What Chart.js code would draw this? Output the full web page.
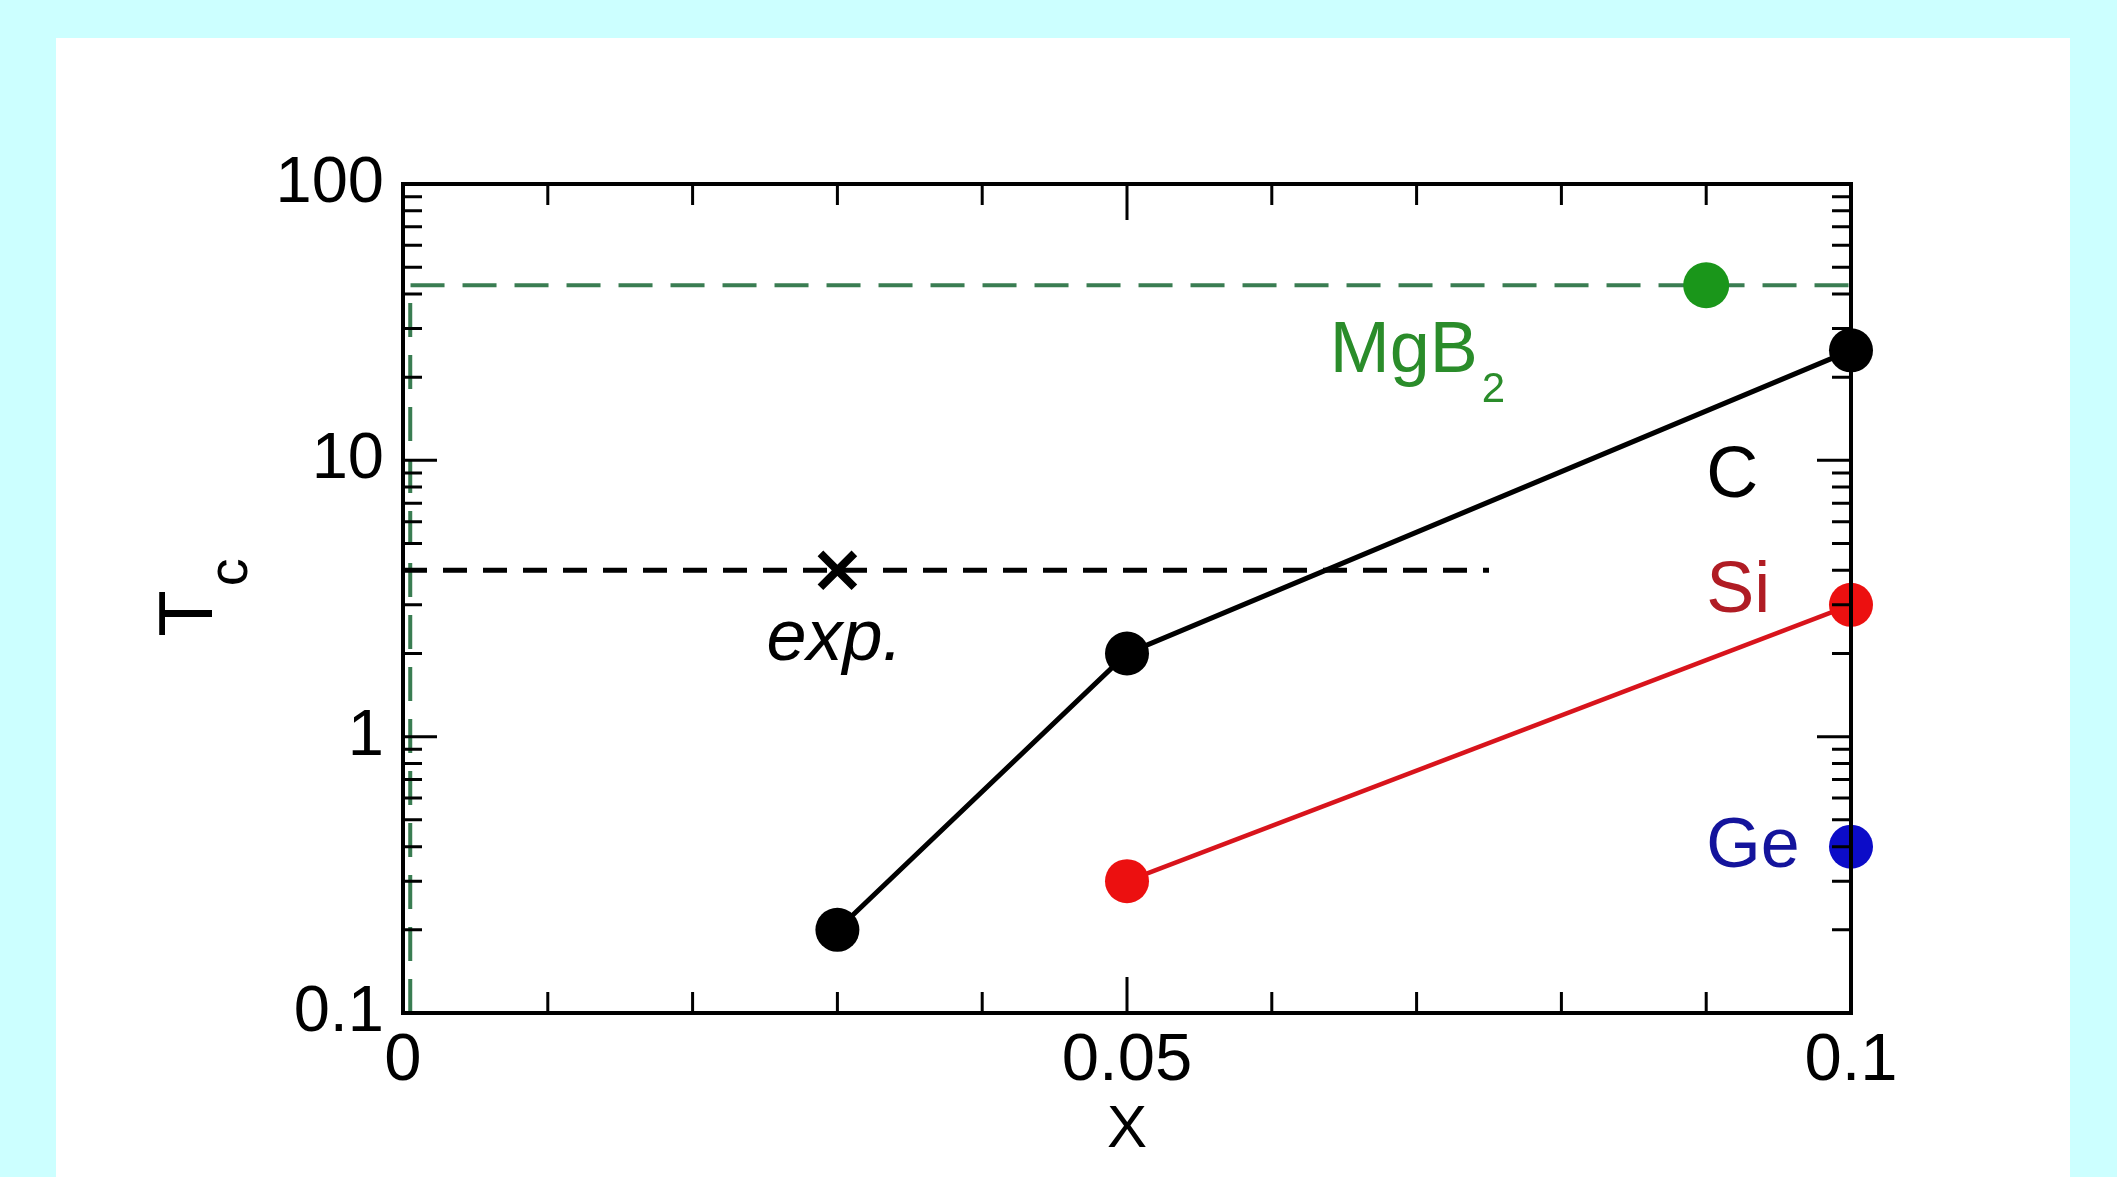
<!DOCTYPE html>
<html>
<head>
<meta charset="utf-8">
<title>Tc vs x</title>
<script src="https://cdn.jsdelivr.net/npm/chart.js@4.4.1/dist/chart.umd.min.js"></script>
<style>
  html, body { margin: 0; padding: 0; background: #ccffff; overflow: hidden; }
  #chart { display: block; }
</style>
</head>
<body>
<canvas id="chart" width="2117" height="1177"></canvas>
<script>
// substitution level x and Tc
const cX = [0.03, 0.05, 0.1];
const cTc = [0.2, 2, 25];
const siX = [0.05, 0.1];
const siTc = [0.3, 3];
const geX = [0.1];
const geTc = [0.4];
const mgb2X = [0.09];
const mgb2Tc = [43];
const expX = [0.03];
const expTc = [4];
const expLineX = [0, 0.075];
const expLineTc = [4, 4];
const mgb2LineX = [0.0005, 0.0005, 0.1];
const mgb2LineTc = [0.1, 43, 43];

// axes
const xTicks = [0, 0.01, 0.02, 0.03, 0.04, 0.05, 0.06, 0.07, 0.08, 0.09, 0.1];
const xLabelled = [0, 0.05, 0.1];
const yDecades = [0.1, 1, 10, 100];

const FONT = "'Liberation Sans', Arial, Helvetica, sans-serif";

const pts = (xs, ys) => xs.map((x, i) => ({ x: x, y: ys[i] }));

// white panel, inward ticks, frame, text labels
const framePlugin = {
  id: "frame",
  beforeDraw(chart) {
    const ctx = chart.ctx;
    ctx.save();
    ctx.fillStyle = "#ffffff";
    ctx.fillRect(56, 38, 2014, 1139);
    ctx.restore();
  },
  afterDatasetsDraw(chart) {
    const { ctx, chartArea: a, scales } = chart;
    const x = scales.x, y = scales.y;
    ctx.save();
    ctx.strokeStyle = "#000";
    ctx.lineWidth = 3;
    ctx.beginPath();
    xTicks.forEach((v, i) => {
      const px = x.getPixelForValue(v);
      const len = i % 5 === 0 ? 36 : 21;
      ctx.moveTo(px, a.bottom);
      ctx.lineTo(px, a.bottom - len);
      ctx.moveTo(px, a.top);
      ctx.lineTo(px, a.top + len);
    });
    yDecades.forEach((d) => {
      for (let m = 1; m <= 9; m++) {
        const v = d * m;
        if (v > 100.0001) break;
        const py = y.getPixelForValue(v);
        const len = m === 1 ? 34 : 19;
        ctx.moveTo(a.left, py);
        ctx.lineTo(a.left + len, py);
        ctx.moveTo(a.right, py);
        ctx.lineTo(a.right - len, py);
      }
    });
    ctx.stroke();
    ctx.lineWidth = 4;
    ctx.strokeRect(a.left, a.top, a.right - a.left, a.bottom - a.top);
    ctx.restore();
  },
  afterDraw(chart) {
    const { ctx, chartArea: a, scales } = chart;
    const x = scales.x, y = scales.y;
    ctx.save();
    ctx.textBaseline = "alphabetic";

    // MgB2 with subscript
    ctx.fillStyle = "#2a8c2a";
    ctx.font = "72px " + FONT;
    ctx.textAlign = "left";
    const mx = x.getPixelForValue(0.064);
    const my = y.getPixelForValue(20.9);
    ctx.fillText("MgB", mx, my);
    const mw = ctx.measureText("MgB").width;
    ctx.font = "42px " + FONT;
    ctx.fillText("2", mx + mw + 4, my + 30);

    ctx.font = "72px " + FONT;
    ctx.fillStyle = "#000";
    ctx.fillText("C", x.getPixelForValue(0.09), y.getPixelForValue(7.37));
    ctx.fillStyle = "#b01c24";
    ctx.fillText("Si", x.getPixelForValue(0.09), y.getPixelForValue(2.83));
    ctx.fillStyle = "#14149c";
    ctx.font = "70px " + FONT;
    ctx.fillText("Ge", x.getPixelForValue(0.09), y.getPixelForValue(0.338));

    ctx.fillStyle = "#000";
    ctx.font = "italic 72px " + FONT;
    ctx.textAlign = "center";
    ctx.fillText("exp.", x.getPixelForValue(0.0298), y.getPixelForValue(1.895));

    // axis titles
    ctx.font = "60px " + FONT;
    ctx.fillText("X", x.getPixelForValue(0.05), 1147);

    ctx.translate(212, (a.top + a.bottom) / 2 + 15);
    ctx.rotate(-Math.PI / 2);
    ctx.font = "76px " + FONT;
    ctx.textAlign = "center";
    ctx.fillText("T", 0, 0);
    const tw = ctx.measureText("T").width;
    ctx.font = "56px " + FONT;
    ctx.textAlign = "left";
    ctx.fillText("c", tw / 2 + 4, 35);
    ctx.restore();
  },
};

const ctx = document.getElementById("chart").getContext("2d");

new Chart(ctx, {
  type: "scatter",
  data: {
    datasets: [
      {
        label: "C",
        data: pts(cX, cTc),
        showLine: true,
        borderColor: "#000",
        backgroundColor: "#000",
        borderWidth: 5,
        pointRadius: 22,
        pointBorderWidth: 0,
        clip: false,
      },
      {
        label: "Si",
        data: pts(siX, siTc),
        showLine: true,
        borderColor: "#d8141c",
        backgroundColor: "#ec1010",
        borderWidth: 4.5,
        pointRadius: 22,
        pointBorderWidth: 0,
        clip: false,
      },
      {
        label: "Ge",
        data: pts(geX, geTc),
        borderColor: "#0c0cc8",
        backgroundColor: "#0c0cc8",
        pointRadius: 22,
        pointBorderWidth: 0,
        clip: false,
      },
      {
        label: "MgB2",
        data: pts(mgb2X, mgb2Tc),
        borderColor: "#1a961a",
        backgroundColor: "#1a961a",
        pointRadius: 23,
        pointBorderWidth: 0,
        clip: false,
      },
      {
        label: "exp.",
        data: pts(expX, expTc),
        pointStyle: "crossRot",
        pointRadius: 24,
        borderColor: "#000",
        pointBorderWidth: 8,
        clip: false,
      },
      {
        label: "exp. level",
        data: pts(expLineX, expLineTc),
        showLine: true,
        borderColor: "#000",
        borderWidth: 5,
        borderDash: [24, 16],
        pointRadius: 0,
        clip: false,
      },
      {
        label: "MgB2 level",
        data: pts(mgb2LineX, mgb2LineTc),
        showLine: true,
        borderColor: "#3a7d52",
        borderWidth: 4,
        borderDash: [34, 18],
        pointRadius: 0,
        clip: false,
      },
    ],
  },
  options: {
    responsive: false,
    animation: false,
    devicePixelRatio: 1,
    layout: { padding: { left: 0, top: 184, right: 266, bottom: 0 } },
    plugins: {
      legend: { display: false },
      tooltip: { enabled: false },
    },
    scales: {
      x: {
        type: "linear",
        min: 0,
        max: 0.1,
        grid: { display: false, drawTicks: false },
        border: { display: false },
        ticks: {
          stepSize: 0.01,
          autoSkip: false,
          maxRotation: 0,
          padding: 8,
          color: "#000",
          font: { family: FONT, size: 67 },
          callback: (v) =>
            xLabelled.some((t) => Math.abs(t - v) < 1e-9) ? String(+Number(v).toFixed(2)) : "",
        },
        afterFit: (s) => { s.height = 164; },
      },
      y: {
        type: "logarithmic",
        min: 0.1,
        max: 100,
        grid: { display: false, drawTicks: false },
        border: { display: false },
        ticks: {
          autoSkip: false,
          padding: 19,
          color: "#000",
          font: { family: FONT, size: 65 },
          callback: (v) =>
            yDecades.some((d) => Math.abs(d - v) / d < 1e-6) ? String(+Number(v).toPrecision(3)) : "",
        },
        afterFit: (s) => { s.width = 403; },
      },
    },
  },
  plugins: [framePlugin],
});
</script>
</body>
</html>
